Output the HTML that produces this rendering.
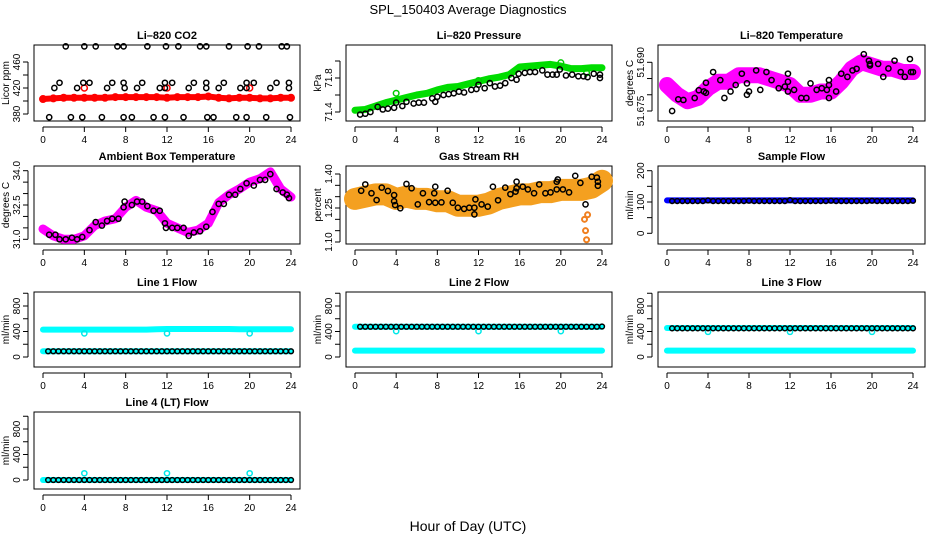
<!DOCTYPE html>
<html><head><meta charset="utf-8"><style>
html,body{margin:0;padding:0;background:#fff}
svg{display:block;font-family:"Liberation Sans",sans-serif}
</style></head><body>
<svg id="chart" width="936" height="540" viewBox="0 0 936 540">
<text x="468" y="14" text-anchor="middle" font-size="13">SPL_150403  Average Diagnostics</text>
<text x="468" y="531" text-anchor="middle" font-size="14">Hour of Day (UTC)</text>
</svg>
<script>
// ---- data ----
const hourTicks = [0,4,8,12,16,20,24];
const denseHours = [0,1,2,3,4,5,6,7,8,9,10,11,12,13,14,15,16,17,18,19,20,21,22,23,24];
const halfHours = [0.5,1,1.5,2,2.5,3,3.5,4,4.5,5,5.5,6,6.5,7,7.5,8,8.5,9,9.5,10,10.5,11,11.5,12,12.5,13,13.5,14,14.5,15,15.5,16,16.5,17,17.5,18,18.5,19,19.5,20,20.5,21,21.5,22,22.5,23,23.5,24];

const co2Red = [403,404,405,405,405,405,405,406,406,406,406,406,405,406,406,406,407,405,404,405,405,404,404,405,405];
const co2RedOutHours = [4,12,20];
const co2RedOutVals = [420,420,420];
const co2BlackHours = [2.2,4.0,5.1,7.2,7.8,10.1,11.9,13.1,15.2,15.8,18.0,19.8,20.9,23.1,23.6, 0.6,2.7,3.8,5.7,7.8,8.6,10.7,11.8,13.6,15.9,16.5,18.7,19.7,21.6,23.9, 1.1,3.3,6.2,7.9,9.1,11.3,11.8,14.1,15.8,17.0,19.1,19.7,22.0,23.8, 1.6,3.9,4.5,6.7,7.8,9.6,11.8,12.5,14.6,15.8,17.5,19.7,20.4,22.6,23.8];
const co2BlackVals = [484,484,484,484,484,484,484,484,484,484,484,484,484,484,484, 375,375,375,375,375,375,375,375,375,375,375,375,375,375,375, 420,420,420,420,420,420,420,420,420,420,420,420,420,420, 428,428,428,428,428,428,428,428,428,428,428,428,428,428,428];

const presGreen = [71.42,71.43,71.47,71.51,71.54,71.57,71.60,71.62,71.66,71.69,71.70,71.73,71.76,71.79,71.81,71.84,71.93,71.94,71.95,71.96,71.94,71.91,71.91,71.92,71.92];
const presGreenOutHours = [4,12,20,22.5];
const presGreenOutVals = [71.62,71.77,71.98,71.86];
const presBlackHours = [0.5,1.0,1.5,2.2,2.7,3.2,3.8,4.0,4.6,5.0,5.7,6.2,6.7,7.5,7.8,8.0,8.6,9.1,9.6,10.1,10.6,11.3,11.8,12.0,12.6,13.1,13.6,14.1,14.6,15.2,15.7,15.9,16.5,17.0,17.5,18.2,18.7,19.2,19.6,19.9,20.5,21.1,21.7,22.2,22.6,23.2,23.8,23.8];
const presBlackVals = [71.37,71.38,71.40,71.46,71.43,71.44,71.45,71.51,71.47,71.52,71.50,71.51,71.51,71.56,71.52,71.58,71.60,71.61,71.62,71.64,71.63,71.66,71.67,71.72,71.68,71.74,71.70,71.71,71.74,71.80,71.78,71.85,71.86,71.87,71.87,71.89,71.84,71.84,71.84,71.90,71.83,71.84,71.82,71.82,71.81,71.85,71.84,71.80];

const tempMagenta = [51.683,51.680,51.678,51.679,51.682,51.684,51.684,51.686,51.686,51.686,51.685,51.684,51.683,51.680,51.680,51.681,51.681,51.684,51.688,51.690,51.689,51.688,51.688,51.687,51.687];
const tempBlackHours = [0.5,1.1,1.6,2.7,3.1,3.6,3.8,3.8,4.5,5.2,5.6,6.2,6.7,7.3,7.8,7.8,8.0,8.7,9.1,9.7,10.2,10.9,11.5,11.8,11.8,11.8,12.4,13.1,13.6,14.0,14.6,15.1,15.6,15.8,15.8,15.8,16.5,17.0,17.6,18.1,18.5,19.2,19.7,19.8,19.8,20.6,21.1,21.6,22.2,22.8,23.2,23.7,23.8,24.0];
const tempBlackVals = [51.675,51.6786,51.6784,51.679,51.6814,51.681,51.6806,51.6837,51.687,51.6845,51.679,51.681,51.683,51.6865,51.6835,51.680,51.681,51.6875,51.6815,51.687,51.6845,51.682,51.6825,51.684,51.6865,51.681,51.6815,51.679,51.679,51.6835,51.6815,51.682,51.6815,51.6845,51.683,51.679,51.681,51.6865,51.6855,51.6875,51.688,51.6925,51.6905,51.689,51.6895,51.6895,51.6855,51.6881,51.6905,51.687,51.6855,51.691,51.687,51.687];

const ambMagenta = [31.45,31.15,31.0,31.0,31.15,31.6,31.8,31.9,32.4,32.7,32.4,32.25,31.7,31.5,31.3,31.4,31.7,32.6,32.95,33.2,33.5,33.65,33.95,33.2,32.85];
const ambBlackHours = [0.6,1.2,1.6,2.2,2.8,3.3,3.8,4.5,5.1,5.7,6.2,6.7,7.3,7.8,7.9,8.6,9.1,9.6,10.1,10.7,11.3,11.8,11.9,12.5,13.0,13.6,14.1,14.6,15.2,15.8,16.4,17.0,17.5,18.0,18.6,19.1,19.7,20.4,21.0,21.5,22.0,22.6,23.2,23.6,23.8];
const ambBlackVals = [31.2,31.2,31.0,31.0,31.07,31.0,31.1,31.4,31.75,31.6,31.8,31.9,31.9,32.4,32.65,32.5,32.65,32.65,32.45,32.25,32.25,31.7,31.5,31.5,31.5,31.5,31.15,31.3,31.35,31.55,32.2,32.55,32.55,32.95,32.95,33.2,33.45,33.35,33.6,33.6,33.85,33.2,33.05,32.95,32.8];

const rhOrange = [1.29,1.30,1.31,1.31,1.29,1.30,1.29,1.29,1.28,1.28,1.26,1.26,1.26,1.27,1.29,1.30,1.31,1.31,1.32,1.32,1.33,1.33,1.33,1.34,1.37];
const rhDipHours = [22.3,22.4,22.5,22.6];
const rhDipVals = [1.20,1.15,1.11,1.22];
const rhBlackHours = [0.6,1.0,1.6,2.1,2.6,3.2,3.8,3.8,3.9,4.4,5.0,5.5,6.1,6.6,7.2,7.7,7.8,7.8,8.4,9.0,9.5,10.0,10.6,11.1,11.6,11.6,11.7,12.3,12.9,13.4,13.9,14.6,15.1,15.6,15.7,15.7,16.3,16.8,17.4,17.9,18.5,19.0,19.6,19.6,19.7,20.2,20.8,21.9,21.4,22.4,23.0,23.5,23.6,23.6];
const rhBlackVals = [1.326,1.354,1.315,1.285,1.34,1.325,1.307,1.28,1.263,1.249,1.356,1.337,1.266,1.315,1.276,1.315,1.344,1.273,1.275,1.326,1.273,1.251,1.246,1.251,1.251,1.222,1.288,1.266,1.256,1.344,1.284,1.34,1.311,1.322,1.366,1.337,1.344,1.332,1.315,1.354,1.315,1.319,1.332,1.366,1.376,1.332,1.319,1.361,1.392,1.266,1.388,1.384,1.366,1.348];

const sampleBlue = [105,105,105,105,105,105,105,105,105,105,105,105,105,105,105,105,105,105,105,105,105,105,105,105,105];
const sampleBlack = [103,103,103,103,103,103,103,105,103,103,103,103,103,103,103,104,103,103,103,103,103,103,103,106,103,103,103,103,103,103,103,104,103,103,103,103,103,103,103,104,103,103,103,103,103,103,103,104];

const line1CyanHigh = [430,430,430,430,430,430,430,430,430,430,430,435,440,440,440,440,440,440,440,435,435,435,435,435,435];
const line1CyanLow = [90,90,90,90,90,90,90,90,90,90,90,90,90,90,90,90,90,90,90,90,90,90,90,90,90];
const line1OutHours = [4,12,20];
const line1OutVals = [370,370,370];
const line1Black = [90,90,90,90,90,90,90,90,90,90,90,90,90,90,90,90,90,90,90,90,90,90,90,90,90,90,90,90,90,90,90,90,90,90,90,90,90,90,90,90,90,90,90,90,90,90,90,90];

const line2CyanHigh = [475,475,475,475,475,475,475,475,475,475,475,475,475,475,475,475,475,475,475,475,475,475,475,475,475];
const line2CyanLow = [100,100,100,100,100,100,100,100,100,100,100,100,100,100,100,100,100,100,100,100,100,100,100,100,100];
const line2OutHours = [4,12,20];
const line2OutVals = [405,405,405];
const line2Black = [475,475,475,475,475,475,475,475,475,475,475,475,475,475,475,475,475,475,475,475,475,475,475,475,475,475,475,475,475,475,475,475,475,475,475,475,475,475,475,475,475,475,475,475,475,475,475,478];

const line3CyanHigh = [455,455,455,455,455,455,455,455,455,455,455,455,455,455,455,455,455,455,455,455,455,455,455,455,455];
const line3CyanLow = [100,100,100,100,100,100,100,100,100,100,100,100,100,100,100,100,100,100,100,100,100,100,100,100,100];
const line3OutHours = [4,12,20];
const line3OutVals = [395,395,395];
const line3Black = [450,450,450,450,450,450,450,450,450,450,450,450,450,450,450,450,450,450,450,450,450,450,450,450,450,450,450,450,450,450,450,450,450,450,450,450,450,450,450,450,450,450,450,450,450,450,450,450];

const line4Cyan = [0,0,0,0,0,0,0,0,0,0,0,0,0,0,0,0,0,0,0,0,0,0,0,0,0];
const line4OutHours = [4,12,20];
const line4OutVals = [105,105,105];
const line4Black = [0,0,0,0,0,0,0,0,0,0,0,0,0,0,0,0,0,0,0,0,0,0,0,0,0,0,0,0,0,0,0,0,0,0,0,0,0,0,0,0,0,0,0,0,0,0,0,0];

const co2Ticks = [380,400,420,440,460]; const co2Labels = [380,420,460];
const presTicks = [71.4,71.6,71.8,72.0]; const presLabels = [71.4,71.8];
const tempTicks = [51.675,51.680,51.685,51.690]; const tempLabels = [51.675,51.690];
const ambTicks = [31.0,31.5,32.0,32.5,33.0,33.5,34.0]; const ambLabels = [31.0,32.5,34.0];
const rhTicks = [1.10,1.15,1.20,1.25,1.30,1.35,1.40]; const rhLabels = [1.10,1.25,1.40];
const sampleTicks = [0,50,100,150,200]; const sampleLabels = [0,100,200];
const flowTicks = [0,200,400,600,800,1000]; const flowLabels = [0,400,800];

// ---- drawing ----
const NS = 'http://www.w3.org/2000/svg';
const svg = document.getElementById('chart');
function mk(tag, attrs, parent){ const e=document.createElementNS(NS,tag); for(const k in attrs) e.setAttribute(k,attrs[k]); (parent||svg).appendChild(e); return e; }

const cols = [{bx0:34,bx1:300,h0:43,h1:291},{bx0:346,bx1:612,h0:355,h1:602},{bx0:658,bx1:925,h0:667,h1:913}];
const rows = [{by0:45,by1:121},{by0:166,by1:244},{by0:292,by1:367},{by0:412,by1:489}];

function panel(name, title, ytitle, col, row, vA, pA, vB, pB, ticks, labels, fmt){
  const c=cols[col], r=rows[row];
  const g = mk('g',{});
  
  
  const xs = h => c.h0 + (c.h1-c.h0)*h/24;
  const ys = v => pA + (v-vA)*(pB-pA)/(vB-vA);
  const t = mk('text',{x:(c.bx0+c.bx1)/2,y:r.by0-6,'text-anchor':'middle','font-size':11,'font-weight':'bold'},g);
  t.textContent = title;
  
  
  const box = mk('rect',{x:c.bx0,y:r.by0,width:c.bx1-c.bx0,height:r.by1-r.by0,fill:'none',stroke:'#000','stroke-width':1},g);
  
  
  const xa = mk('g',{},g);
  
  
  mk('line',{x1:xs(0),x2:xs(24),y1:r.by1+6,y2:r.by1+6,stroke:'#000'},xa);
  hourTicks.forEach(h=>{
    mk('line',{x1:xs(h),x2:xs(h),y1:r.by1+6,y2:r.by1+11,stroke:'#000'},xa);
    const l = mk('text',{x:xs(h),y:r.by1+22,'text-anchor':'middle','font-size':10},xa);
    l.textContent = h;
  });
  const ya = mk('g',{},g);
  
  
  const ax = c.bx0-6;
  mk('line',{x1:ax,x2:ax,y1:ys(ticks[0]),y2:ys(ticks[ticks.length-1]),stroke:'#000'},ya);
  ticks.forEach(v=>mk('line',{x1:ax,x2:ax-5,y1:ys(v),y2:ys(v),stroke:'#000'},ya));
  labels.forEach(v=>{
    const l = mk('text',{x:0,y:0,'text-anchor':'middle','font-size':10,transform:`translate(${ax-8},${ys(v)}) rotate(-90)`},ya);
    l.textContent = fmt(v);
  });
  const yt = mk('text',{x:0,y:0,'text-anchor':'middle','font-size':10,transform:`translate(${c.bx0-25},${(r.by0+r.by1)/2}) rotate(-90)`},g);
  yt.textContent = ytitle;
  
  
  return {g,xs,ys};
}
function band(p, name, hours, vals, color, width){
  const pts = hours.map((h,i)=>p.xs(h)+','+p.ys(vals[i])).join(' ');
  const e = mk('polyline',{points:pts,fill:'none',stroke:color,'stroke-width':width,'stroke-linejoin':'round','stroke-linecap':'round'},p.g);
  
  
}
function pts(p, name, hours, vals, color, r, sw){
  const g = mk('g',{},p.g);
  
  
  hours.forEach((h,i)=>mk('circle',{cx:p.xs(h),cy:p.ys(vals[i]),r:r,fill:'none',stroke:color,'stroke-width':sw},g));
}
const f0 = v=>String(v), f1=v=>v.toFixed(1), f2=v=>v.toFixed(2), f3=v=>v.toFixed(3);

let p;
p = panel('co2-panel','Li\u2013820 CO2','Licor ppm',0,0,380,114,460,62,co2Ticks,co2Labels,f0);
band(p,'co2-red-series',denseHours,co2Red,'#ff0000',6);
pts(p,'co2-red-points',denseHours,co2Red,'#ff0000',3,2);
pts(p,'co2-red-outliers',co2RedOutHours,co2RedOutVals,'#ff0000',3,1.5);
pts(p,'co2-black-points',co2BlackHours,co2BlackVals,'#000',2.6,1.5);

p = panel('pressure-panel','Li\u2013820 Pressure','kPa',1,0,71.4,112,71.8,78,presTicks,presLabels,f1);
band(p,'pressure-green-series',denseHours,presGreen,'#00dd00',7);
pts(p,'pressure-green-outliers',presGreenOutHours,presGreenOutVals,'#00cc00',2.8,1.5);
pts(p,'pressure-black-points',presBlackHours,presBlackVals,'#000',2.6,1.5);

p = panel('li820-temperature-panel','Li\u2013820 Temperature','degrees C',2,0,51.675,111,51.690,62.3,tempTicks,tempLabels,f3);
band(p,'temperature-magenta-series',denseHours,tempMagenta,'#ff00ff',16);
pts(p,'temperature-black-points',tempBlackHours,tempBlackVals,'#000',2.6,1.5);

p = panel('ambient-panel','Ambient Box Temperature','degrees C',0,1,31,239.3,34,170.7,ambTicks,ambLabels,f1);
band(p,'ambient-magenta-series',denseHours,ambMagenta,'#ff00ff',9);
pts(p,'ambient-black-points',ambBlackHours,ambBlackVals,'#000',2.6,1.5);

p = panel('rh-panel','Gas Stream RH','percent',1,1,1.10,242,1.40,174,rhTicks,rhLabels,f2);
band(p,'rh-orange-series',denseHours,rhOrange,'#f4a020',22);
pts(p,'rh-orange-dip',rhDipHours,rhDipVals,'#f08020',2.5,2);
pts(p,'rh-black-points',rhBlackHours,rhBlackVals,'#000',2.6,1.5);

p = panel('sample-flow-panel','Sample Flow','ml/min',2,1,0,233.3,200,170.7,sampleTicks,sampleLabels,f0);
band(p,'sample-blue-series',denseHours,sampleBlue,'#0000ff',6);
pts(p,'sample-black-points',halfHours,sampleBlack,'#000',2.4,1.5);

p = panel('line1-flow-panel','Line 1 Flow','ml/min',0,2,0,357,800,306,flowTicks,flowLabels,f0);
band(p,'line1-cyan-high',denseHours,line1CyanHigh,'#00ffff',6);
band(p,'line1-cyan-low',denseHours,line1CyanLow,'#00ffff',6);
pts(p,'line1-cyan-outliers',line1OutHours,line1OutVals,'#00e8e8',2.6,1.5);
pts(p,'line1-black-points',halfHours,line1Black,'#000',2.4,1.5);

p = panel('line2-flow-panel','Line 2 Flow','ml/min',1,2,0,357,800,306,flowTicks,flowLabels,f0);
band(p,'line2-cyan-low',denseHours,line2CyanLow,'#00ffff',6);
band(p,'line2-cyan-high',denseHours,line2CyanHigh,'#00ffff',6);
pts(p,'line2-cyan-outliers',line2OutHours,line2OutVals,'#00e8e8',2.6,1.5);
pts(p,'line2-black-points',halfHours,line2Black,'#000',2.4,1.5);

p = panel('line3-flow-panel','Line 3 Flow','ml/min',2,2,0,357,800,306,flowTicks,flowLabels,f0);
band(p,'line3-cyan-low',denseHours,line3CyanLow,'#00ffff',6);
band(p,'line3-cyan-high',denseHours,line3CyanHigh,'#00ffff',6);
pts(p,'line3-cyan-outliers',line3OutHours,line3OutVals,'#00e8e8',2.6,1.5);
pts(p,'line3-black-points',halfHours,line3Black,'#000',2.4,1.5);

p = panel('line4-flow-panel','Line 4 (LT) Flow','ml/min',0,3,0,480,800,429,flowTicks,flowLabels,f0);
band(p,'line4-cyan-series',denseHours,line4Cyan,'#00ffff',6);
pts(p,'line4-cyan-outliers',line4OutHours,line4OutVals,'#00e8e8',2.6,1.5);
pts(p,'line4-black-points',halfHours,line4Black,'#000',2.4,1.5);
</script>
</body></html>
